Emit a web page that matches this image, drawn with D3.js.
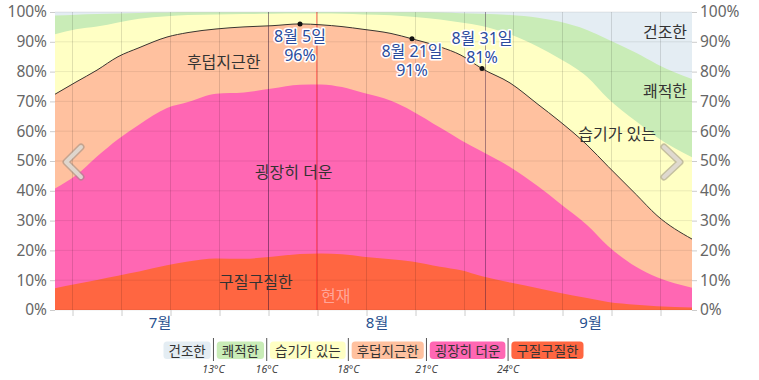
<!DOCTYPE html>
<html><head><meta charset="utf-8">
<script src="https://cdn.jsdelivr.net/npm/d3@7/dist/d3.min.js"></script>
<style>
html,body{margin:0;padding:0;background:#fff;}
svg{display:block;}
</style></head>
<body>
<svg id="chart" width="759" height="380"></svg>
<script>
// ---- data (day index 0 = 7월 1일) ----
const days = [0,3,6,9,12,16,19,23,27,31,35,38,41,44,48,51,55,58,61,65,69,72,76,79,83,86,91];
// share of time (%) with dew point at or above each threshold
const ge24 = [7.3,8.7,10.1,11.5,12.9,15.0,16.3,17.3,17.2,17.9,18.8,19.0,18.7,17.9,17.0,16.3,14.5,13.3,11.3,9.2,7.3,5.8,4.0,2.7,1.8,1.3,0.8];
const ge21 = [40.8,45.2,51.5,57.3,62.2,67.8,69.8,72.6,73.0,74.3,75.6,75.7,74.8,72.9,70.2,66.8,61.2,57.0,53.2,48.0,41.5,36.0,28.5,21.5,14.5,11.0,7.5];
const ge18 = [72.4,76.5,80.5,85.0,88.0,91.6,93.1,94.3,95.0,95.4,96.0,95.7,95.1,94.2,92.8,91.0,88.3,85.5,81.0,76.2,69.0,63.5,55.4,48.2,38.8,31.7,23.8];
const ge16 = [92.5,94.2,95.1,96.5,97.7,98.6,99.0,99.2,99.3,99.4,99.5,99.5,99.4,99.2,98.9,98.4,97.5,96.5,95.3,92.5,88.3,84.5,78.3,71.0,63.3,58.0,51.3];
const ge13 = [98.8,99.1,99.3,99.5,99.7,99.8,99.9,99.9,99.9,99.9,99.9,99.9,99.9,99.9,99.9,99.9,99.8,99.6,99.4,99.0,98.1,96.8,94.0,90.8,86.3,82.5,77.5];

const categories = ["건조한","쾌적한","습기가 있는","후덥지근한","굉장히 더운","구질구질한"];
const thresholds = ["13°C","16°C","18°C","21°C","24°C"];
const monthNames = ["7월","8월","9월"];
const monthStart = [0,31,62];
const monthDays = [31,31,30];
const annotDays = [35,51,61];
const annotLabels = ["8월 5일","8월 21일","8월 31일"];
const annotValues = [96,91,81];
const annotAbove = [false,false,true];
const nowDay = 37.4;
const nowLabel = "현재";
const yTicks = [0,10,20,30,40,50,60,70,80,90,100];
const weekTicks = [2.5,9.5,16.5,23.5,30.5,37.5,44.5,51.5,58.5,65.5,72.5,79.5,86.5];

// ---- styles ----
const colors = ["#e4edf3","#c9ecb7","#ffffc4","#ffc19f","#ff67b3","#ff6641"];
const FONT = "'Noto Sans','Noto Sans CJK KR',sans-serif";

const svg = d3.select("#chart");
const x = d3.scaleLinear().domain([0,91]).range([55,692]);
const y = d3.scaleLinear().domain([0,100]).range([310,12]);

// background (dry band)
svg.append("rect").attr("x",x(0)).attr("y",y(100)).attr("width",x(91)-x(0)).attr("height",y(0)-y(100)).attr("fill",colors[0]);

const series = [ge13,ge16,ge18,ge21,ge24];
series.forEach((s,i)=>{
  const area = d3.area().x((d,j)=>x(days[j])).y0(y(0)).y1(d=>y(d)).curve(d3.curveMonotoneX);
  svg.append("path").datum(s).attr("d",area).attr("fill",colors[i+1]);
});

// grid
const grid = svg.append("g");
yTicks.forEach(v=>{
  grid.append("line").attr("x1",x(0)).attr("x2",x(91)).attr("y1",y(v)).attr("y2",y(v))
    .attr("stroke","rgba(0,0,0,0.08)").attr("stroke-width",1);
});
weekTicks.forEach(d=>{
  grid.append("line").attr("x1",x(d)).attr("x2",x(d)).attr("y1",y(100)).attr("y2",y(0))
    .attr("stroke","rgba(0,0,0,0.12)").attr("stroke-width",1);
});
monthStart.slice(1).forEach(m=>{
  grid.append("line").attr("x1",x(m-0.5)).attr("x2",x(m-0.5)).attr("y1",y(100)).attr("y2",y(0))
    .attr("stroke","rgba(50,20,60,0.42)").attr("stroke-width",1);
});
svg.append("line").attr("x1",x(nowDay)).attr("x2",x(nowDay)).attr("y1",y(100)).attr("y2",y(0))
  .attr("stroke","rgba(255,30,30,0.65)").attr("stroke-width",1);

// line (>=18)
svg.append("path").datum(ge18)
  .attr("d",d3.line().x((d,j)=>x(days[j])).y(d=>y(d)).curve(d3.curveMonotoneX))
  .attr("fill","none").attr("stroke","#3a3530").attr("stroke-width",1);

// axes
const axL = d3.axisLeft(y).tickValues(yTicks).tickFormat(d=>d+"%").tickSize(5).tickPadding(3);
const axR = d3.axisRight(y).tickValues(yTicks).tickFormat(d=>d+"%").tickSize(5).tickPadding(3);
const axB = d3.axisBottom(x).tickValues(weekTicks).tickFormat("").tickSize(6);
function styleAxis(g){
  g.select(".domain").remove();
  g.selectAll(".tick line").attr("stroke","#ccc");
  g.selectAll(".tick text").attr("fill","#666").style("font-family",FONT).style("font-size","15.5px");
}
svg.append("g").attr("transform",`translate(${x(0)},0)`).call(axL).call(styleAxis);
svg.append("g").attr("transform",`translate(${x(91)},0)`).call(axR).call(styleAxis);
svg.append("g").attr("transform",`translate(0,${y(0)})`).call(axB).call(styleAxis);

// month labels
monthNames.forEach((m,i)=>{
  svg.append("text").attr("x",x(monthStart[i]-0.5+monthDays[i]/2)).attr("y",328)
    .attr("text-anchor","middle").attr("fill","#27508f")
    .style("font-family",FONT).style("font-size","15px").text(m);
});

// category labels in the chart
const inLabels = [
  {t:categories[0], d:90.3, v:93.3, a:"end"},
  {t:categories[1], d:90.3, v:73.5, a:"end"},
  {t:categories[2], d:80.3, v:59.0, a:"middle"},
  {t:categories[3], d:24.1, v:83.2, a:"middle"},
  {t:categories[4], d:34.1, v:46.3, a:"middle"},
  {t:categories[5], d:28.7, v:9.4, a:"middle"}
];
inLabels.forEach(l=>{
  svg.append("text").attr("x",x(l.d)).attr("y",y(l.v)).attr("dy","0.36em")
    .attr("text-anchor",l.a).attr("fill","#333")
    .style("font-family",FONT).style("font-size","16px").text(l.t);
});
svg.append("text").attr("x",x(nowDay)+19).attr("y",y(4.7)).attr("dy","0.36em")
  .attr("text-anchor","middle").attr("fill","rgba(255,175,165,0.9)")
  .style("font-family",FONT).style("font-size","16px").text(nowLabel);

// annotations
annotDays.forEach((d,i)=>{
  const cx = x(d), cy = y(annotValues[i]);
  const b1 = annotAbove[i] ? cy-25 : cy+18.5;
  const t = svg.append("text").attr("text-anchor","middle")
    .attr("fill","#2a4b9c").attr("stroke","#fff").attr("stroke-width",3)
    .attr("stroke-linejoin","round").attr("paint-order","stroke")
    .style("font-family",FONT).style("font-size","16px");
  [annotLabels[i], annotValues[i]+"%"].forEach((s,k)=>{
    t.append("tspan").attr("x",cx).attr("y",b1+k*19).text(s);
  });
  svg.append("circle").attr("cx",cx).attr("cy",cy).attr("r",2.5).attr("fill","#111");
});

// nav chevrons
function chevron(pts){
  const p = d3.line()(pts);
  svg.append("path").attr("d",p).attr("fill","none").attr("stroke","rgba(150,140,130,0.55)")
    .attr("stroke-width",7).attr("stroke-linecap","round").attr("stroke-linejoin","round");
  svg.append("path").attr("d",p).attr("fill","none").attr("stroke","rgba(225,220,212,0.9)")
    .attr("stroke-width",4).attr("stroke-linecap","round").attr("stroke-linejoin","round");
}
chevron([[81,147],[66,162],[81,177]]);
chevron([[664,147],[680,162],[664,177]]);

// legend
const lg = svg.append("g");
const items = categories.map((c,i)=>{
  const t = lg.append("text").attr("y",355.5).attr("text-anchor","middle").attr("fill","#333")
    .style("font-family",FONT).style("font-size","13.5px").text(c);
  return {t, w: t.node().getComputedTextLength()+10};
});
const gap = 6;
const total = d3.sum(items,d=>d.w)+gap*(items.length-1);
let cx0 = (x(0)+x(91))/2 - total/2;
items.forEach((it,i)=>{
  lg.insert("rect","text").attr("x",cx0).attr("y",341.5).attr("width",it.w).attr("height",17.5)
    .attr("rx",3.5).attr("fill",colors[i]);
  it.t.attr("x",cx0+it.w/2);
  cx0 += it.w;
  if(i<items.length-1){
    const sx = cx0+gap/2 - 0.3;
    lg.append("line").attr("x1",sx).attr("x2",sx).attr("y1",338).attr("y2",361).attr("stroke","#555").attr("stroke-width",1);
    lg.append("text").attr("x",sx).attr("y",372.5).attr("text-anchor","middle").attr("fill","#444")
      .style("font-family",FONT).style("font-size","10.5px").style("font-style","italic").text(thresholds[i]);
    cx0 += gap;
  }
});
</script>
</body></html>
